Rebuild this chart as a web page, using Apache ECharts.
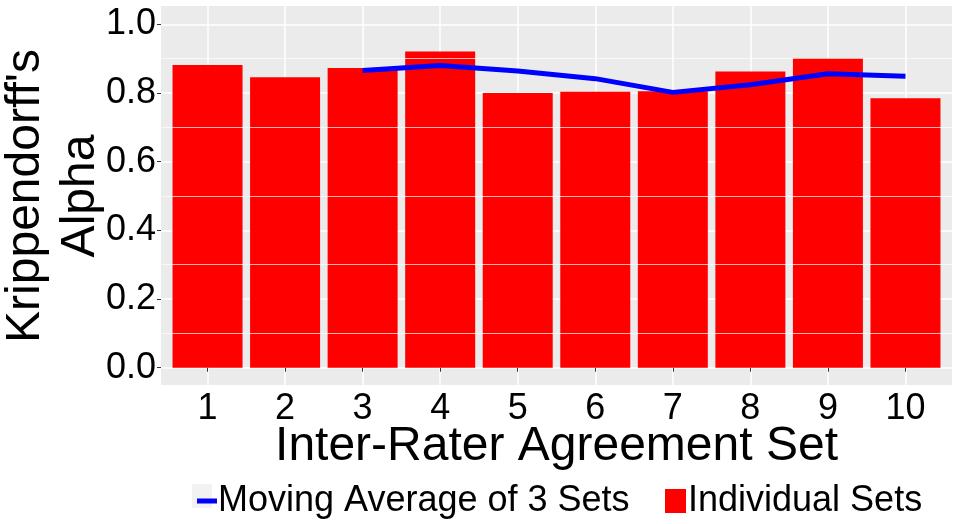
<!DOCTYPE html>
<html><head><meta charset="utf-8">
<script src="https://cdn.jsdelivr.net/npm/echarts@6/dist/echarts.min.js"></script>
<style>html,body{margin:0;padding:0;background:#fff}#c{width:960px;height:524px}</style>
</head><body><div id="c"></div>
<script>
const sets = [1, 2, 3, 4, 5, 6, 7, 8, 9, 10];
const individual = [0.882, 0.846, 0.873, 0.921, 0.800, 0.804, 0.805, 0.863, 0.902, 0.785];
const movingAvg = [null, null, 0.866, 0.880, 0.864, 0.842, 0.802, 0.824, 0.856, 0.849];
const yTicks = [0, 0.2, 0.4, 0.6, 0.8, 1.0];
const yMinor = [0.1, 0.3, 0.5, 0.7, 0.9];
const yTitle = "Krippendorff's\nAlpha";
const xTitle = 'Inter-Rater Agreement Set';

const FONT = 'Liberation Sans, Arial, sans-serif';
const chart = echarts.init(document.getElementById('c'), null, {renderer: 'canvas'});
chart.setOption({
  animation: false,
  backgroundColor: '#ffffff',
  grid: {left: 161, right: 8, top: 6, bottom: 139, show: true, backgroundColor: '#EBEBEB', borderWidth: 0,
    containLabel: false, outerBoundsMode: 'none'},
  graphic: [
    {type: 'rect', left: 192, top: 484, shape: {width: 20, height: 24}, style: {fill: '#F2F2F2'}, z: -1},
    {type: 'text', x: 53, y: 196, rotation: Math.PI / 2,
     style: {text: yTitle, fontFamily: FONT, fontSize: 48, lineHeight: 55, fill: '#000',
       align: 'center', verticalAlign: 'middle'}}
  ],
  xAxis: {
    type: 'value', min: 0.4, max: 10.6,
    name: xTitle, nameLocation: 'middle', nameGap: 38, nameMoveOverlap: false,
    nameTextStyle: {fontFamily: FONT, fontSize: 48, color: '#000'},
    axisLine: {show: false},
    axisTick: {show: true, length: 4, lineStyle: {color: '#333', width: 1}, customValues: sets},
    axisLabel: {customValues: sets, fontFamily: FONT, fontSize: 36, color: '#000', margin: 6},
    splitLine: {show: true, lineStyle: {color: '#fff', width: 1.5}}
  },
  yAxis: {
    type: 'value', min: -0.0504, max: 1.0536,
    axisLine: {show: false},
    axisTick: {show: true, length: 4, lineStyle: {color: '#333', width: 1}, customValues: yTicks},
    axisLabel: {customValues: yTicks, fontFamily: FONT, fontSize: 36, color: '#000', margin: 5,
      formatter: v => v.toFixed(1)},
    splitLine: {show: true, lineStyle: {color: '#fff', width: 1.5}}
  },
  legend: [
    {data: [{name: 'Moving Average of 3 Sets', icon: 'rect'}], left: 192, top: 478, itemWidth: 20, itemHeight: 5,
     itemGap: 0, textStyle: {fontFamily: FONT, fontSize: 36, color: '#000', padding: [0, 0, 0, -4]}},
    {data: [{name: 'Individual Sets', icon: 'rect'}], left: 660, top: 478, itemWidth: 21, itemHeight: 24,
     itemGap: 0, textStyle: {fontFamily: FONT, fontSize: 36, color: '#000', padding: [0, 0, 0, -3]}}
  ],
  series: [
    {type: 'line', name: 'minor', data: [], z: 1, silent: true,
     markLine: {silent: true, symbol: 'none', label: {show: false},
       lineStyle: {color: '#fff', width: 0.7, type: 'solid'},
       data: yMinor.map(v => ({yAxis: v}))}},
    {type: 'bar', name: 'Individual Sets', data: sets.map((s, i) => [s, individual[i]]),
     barWidth: 70, itemStyle: {color: '#FF0000'}, z: 2},
    {type: 'line', name: 'Moving Average of 3 Sets', data: sets.map((s, i) => [s, movingAvg[i]]),
     showSymbol: false, symbol: 'none', lineStyle: {color: '#0000FF', width: 5}, itemStyle: {color: '#0000FF'}, z: 3}
  ]
});
</script></body></html>
